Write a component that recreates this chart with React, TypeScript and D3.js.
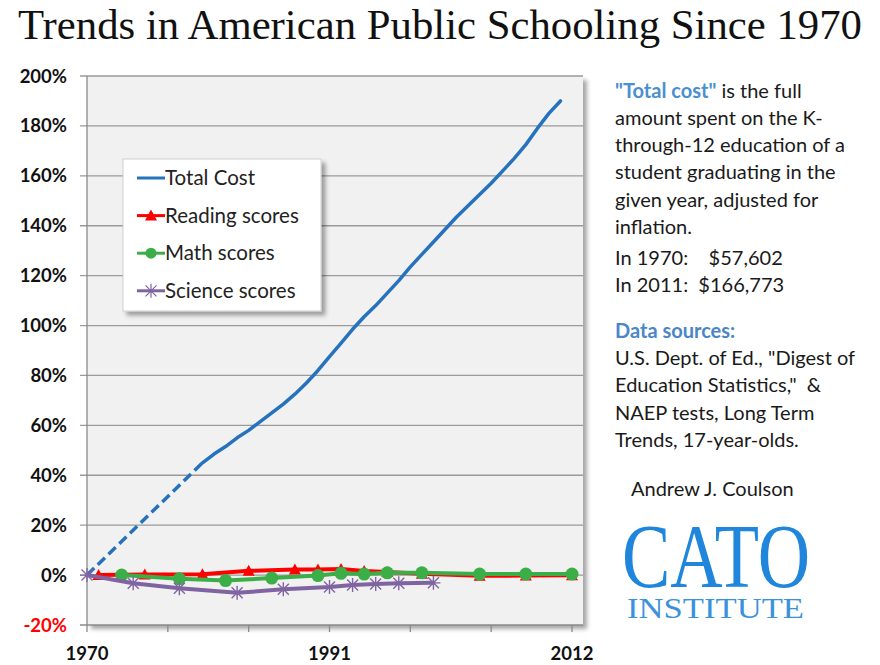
import * as d3 from 'd3';
import React, { useEffect, useRef } from 'react';

// Total cost, % change since 1970 (gap 1970-1980 drawn dashed)
const costYears = [
  1970, 1980, 1981, 1982, 1983, 1984, 1985, 1986, 1987, 1988, 1989, 1990, 1991,
  1992, 1993, 1994, 1995, 1996, 1997, 1998, 1999, 2000, 2001, 2002, 2003, 2004,
  2005, 2006, 2007, 2008, 2009, 2010, 2011,
];
const costValues = [
  0, 45, 48.5, 51.5, 55, 58, 61.5, 65, 68.5, 72.5, 77, 82, 87.5, 93, 98.5,
  103.5, 108, 113, 118, 123.5, 128.5, 133.5, 138.5, 143.5, 148, 152.5, 157, 162,
  167, 172.5, 179, 185, 190,
];

const readingYears = [1971, 1975, 1980, 1984, 1988, 1990, 1992, 1994, 1996, 1999, 2004, 2008, 2012];
const readingValues = [0, 0.2, 0.3, 1.7, 2.2, 2.2, 2.4, 1.6, 1.2, 0.5, -0.3, -0.2, -0.1];

const mathYears = [1973, 1978, 1982, 1986, 1990, 1992, 1994, 1996, 1999, 2004, 2008, 2012];
const mathValues = [0, -1.5, -2.2, -1.2, -0.2, 0.7, 0.4, 0.9, 0.9, 0.4, 0.4, 0.4];

const scienceYears = [1970, 1974, 1978, 1983, 1987, 1991, 1993, 1995, 1997, 2000];
const scienceValues = [0, -3.3, -5.3, -7.1, -5.7, -4.8, -4.0, -3.6, -3.3, -3.1];

const yTicks = [-20, 0, 20, 40, 60, 80, 100, 120, 140, 160, 180, 200];
const xTicks = [1970, 1977, 1984, 1991, 1998, 2005, 2012];
const xLabels = [1970, 1991, 2012];

const legendItems = ['Total Cost', 'Reading scores', 'Math scores', 'Science scores'];

const noteLines = [
  'amount spent on the K-',
  'through-12 education of a',
  'student graduating in the',
  'given year, adjusted for',
  'inflation.',
  'In 1970:\u00a0\u00a0\u00a0\u00a0$57,602',
  'In 2011:\u00a0\u00a0$166,773',
];
const sourceLines = [
  'U.S. Dept. of Ed., "Digest of',
  'Education Statistics,"\u00a0\u00a0&',
  'NAEP tests, Long Term',
  'Trends, 17-year-olds.',
];

const BLUE = '#2672bd';
const RED = '#ff0000';
const GREEN = '#3cae48';
const PURPLE = '#8064a2';
const SANS = 'Lato, "Open Sans", sans-serif';

const App: React.FC = () => {
  const ref = useRef<HTMLDivElement>(null);

  useEffect(() => {
    const width = 880;
    const height = 665;
    const left = 87;
    const right = 583;
    const top = 76;
    const bottom = 625;

    const x = d3.scaleLinear().domain([1970, 2012]).range([left, 572]);
    const y = d3.scaleLinear().domain([-20, 200]).range([bottom, top]);

    const svg = d3
      .create('svg')
      .attr('width', width)
      .attr('height', height)
      .attr('viewBox', [0, 0, width, height])
      .style('display', 'block');

    const defs = svg.append('defs');
    defs
      .append('filter')
      .attr('id', 'shadow')
      .attr('x', '-5%')
      .attr('y', '-5%')
      .attr('width', '115%')
      .attr('height', '115%')
      .append('feDropShadow')
      .attr('dx', 4)
      .attr('dy', 4)
      .attr('stdDeviation', 2)
      .attr('flood-color', '#000')
      .attr('flood-opacity', 0.35);

    svg.append('rect').attr('width', width).attr('height', height).attr('fill', '#fff');

    // Title
    svg
      .append('text')
      .attr('x', 18)
      .attr('y', 39)
      .attr('font-family', '"Liberation Serif", "DejaVu Serif", serif')
      .attr('font-size', 42)
      .attr('fill', '#111')
      .attr('textLength', 844)
      .attr('lengthAdjust', 'spacingAndGlyphs')
      .text('Trends in American Public Schooling Since 1970');

    // Plot area
    svg
      .append('rect')
      .attr('x', left)
      .attr('y', top)
      .attr('width', right - left)
      .attr('height', bottom - top)
      .attr('fill', '#f1f1f1')
      .attr('filter', 'url(#shadow)');

    // Gridlines + y ticks
    svg
      .append('g')
      .selectAll('line')
      .data(yTicks.filter(d => d > -20))
      .join('line')
      .attr('x1', left - 7)
      .attr('x2', right)
      .attr('y1', d => y(d))
      .attr('y2', d => y(d))
      .attr('stroke', '#9a9a9a')
      .attr('stroke-width', 1.3);

    svg
      .append('g')
      .selectAll('text')
      .data(yTicks)
      .join('text')
      .attr('x', 67)
      .attr('y', d => y(d) + 6.5)
      .attr('text-anchor', 'end')
      .attr('font-family', SANS)
      .attr('font-weight', 'bold')
      .attr('font-size', 18.5)
      .attr('fill', d => (d < 0 ? '#ff0000' : '#111'))
      .text(d => `${d}%`);

    // Axes lines
    svg.append('line').attr('x1', left).attr('x2', left).attr('y1', top).attr('y2', bottom)
      .attr('stroke', '#8a8a8a').attr('stroke-width', 1.3);
    svg.append('line').attr('x1', left - 7).attr('x2', right).attr('y1', bottom).attr('y2', bottom)
      .attr('stroke', '#8a8a8a').attr('stroke-width', 1.3);

    svg
      .append('g')
      .selectAll('line')
      .data(xTicks)
      .join('line')
      .attr('x1', d => x(d))
      .attr('x2', d => x(d))
      .attr('y1', bottom)
      .attr('y2', bottom + 7)
      .attr('stroke', '#8a8a8a')
      .attr('stroke-width', 1.3);

    svg
      .append('g')
      .selectAll('text')
      .data(xLabels)
      .join('text')
      .attr('x', d => x(d))
      .attr('y', 660)
      .attr('text-anchor', 'middle')
      .attr('font-family', SANS)
      .attr('font-weight', 'bold')
      .attr('font-size', 18.5)
      .attr('fill', '#111')
      .text(d => d);

    const line = d3
      .line<[number, number]>()
      .x(d => x(d[0]))
      .y(d => y(d[1]));

    // Total cost: dashed across the data gap, solid afterwards
    const costPts: [number, number][] = costYears.map((yr, i) => [yr, costValues[i]]);
    svg.append('path').attr('d', line(costPts.slice(0, 2)))
      .attr('fill', 'none').attr('stroke', BLUE).attr('stroke-width', 3.5)
      .attr('stroke-dasharray', '10,5');
    svg.append('path').attr('d', line(costPts.slice(1)))
      .attr('fill', 'none').attr('stroke', BLUE).attr('stroke-width', 3.5)
      .attr('stroke-linejoin', 'round').attr('stroke-linecap', 'round');

    const triangle = 'M0,-6L6,5L-6,5Z';
    const star = 'M0,-7V7M-5.5,-5.5L5.5,5.5M-5.5,5.5L5.5,-5.5M-7,0H7';

    const drawSeries = (
      years: number[],
      values: number[],
      color: string,
      marker: 'triangle' | 'circle' | 'star'
    ) => {
      const pts: [number, number][] = years.map((yr, i) => [yr, values[i]]);
      svg.append('path').attr('d', line(pts))
        .attr('fill', 'none').attr('stroke', color).attr('stroke-width', 4)
        .attr('stroke-linejoin', 'round');
      const g = svg.append('g');
      const m = g.selectAll('g').data(pts).join('g')
        .attr('transform', d => `translate(${x(d[0])},${y(d[1])})`);
      if (marker === 'circle') {
        m.append('circle').attr('r', 6.5).attr('fill', color);
      } else if (marker === 'triangle') {
        m.append('path').attr('d', triangle).attr('fill', color);
      } else {
        m.append('path').attr('d', star).attr('stroke', color).attr('stroke-width', 1.4).attr('fill', 'none');
      }
    };

    drawSeries(readingYears, readingValues, RED, 'triangle');
    drawSeries(mathYears, mathValues, GREEN, 'circle');
    drawSeries(scienceYears, scienceValues, PURPLE, 'star');

    // Legend
    const lg = svg.append('g').attr('transform', 'translate(123,159)');
    lg.append('rect').attr('width', 198).attr('height', 152)
      .attr('fill', '#fff').attr('stroke', '#d0d0d0').attr('filter', 'url(#shadow)');
    const colors = [BLUE, RED, GREEN, PURPLE];
    const row = lg.selectAll('g.row').data(legendItems).join('g')
      .attr('class', 'row')
      .attr('transform', (_, i) => `translate(0,${19 + i * 37.6})`);
    row.append('line').attr('x1', 14).attr('x2', 42).attr('y1', 0).attr('y2', 0)
      .attr('stroke', (_, i) => colors[i]).attr('stroke-width', 3);
    row.each(function (_, i) {
      const r = d3.select(this);
      if (i === 1) r.append('path').attr('d', triangle).attr('transform', 'translate(28,0)').attr('fill', RED);
      if (i === 2) r.append('circle').attr('cx', 28).attr('r', 5.5).attr('fill', GREEN);
      if (i === 3) r.append('path').attr('d', star).attr('transform', 'translate(28,0)')
        .attr('stroke', PURPLE).attr('stroke-width', 1.2).attr('fill', 'none');
    });
    row.append('text').attr('x', 42).attr('y', 7)
      .attr('font-family', SANS).attr('font-size', 20.5).attr('fill', '#222')
      .text(d => d);

    // Right-hand notes
    const notes = svg.append('g').attr('font-family', SANS).attr('font-size', 20).attr('fill', '#1a1a1a');
    const first = notes.append('text').attr('x', 615).attr('y', 98);
    first.append('tspan').attr('fill', '#4a8fd0').attr('font-weight', 'bold').text('"Total cost"');
    first.append('tspan').text(' is the full');
    notes.selectAll('text.note').data(noteLines).join('text')
      .attr('class', 'note')
      .attr('x', 615)
      .attr('y', (_, i) => 125 + i * 27.2 + (i >= 5 ? 4 : 0))
      .text(d => d);

    notes.append('text').attr('x', 615).attr('y', 338)
      .attr('fill', '#4a86c8').attr('font-weight', 'bold').text('Data sources:');
    notes.selectAll('text.src').data(sourceLines).join('text')
      .attr('class', 'src')
      .attr('x', 615)
      .attr('y', (_, i) => 365 + i * 27.3)
      .text(d => d);
    notes.append('text').attr('x', 631).attr('y', 496).text('Andrew J. Coulson');

    // CATO logo
    svg.append('text').attr('x', 622).attr('y', 587)
      .attr('font-family', '"Liberation Serif", serif').attr('font-size', 90)
      .attr('fill', '#1f86dc').attr('textLength', 188).attr('lengthAdjust', 'spacingAndGlyphs')
      .text('CATO');
    svg.append('text').attr('x', 627).attr('y', 618)
      .attr('font-family', '"Liberation Serif", serif').attr('font-size', 29)
      .attr('fill', '#3b92dc').attr('textLength', 177).attr('lengthAdjust', 'spacingAndGlyphs')
      .text('INSTITUTE');

    d3.select(ref.current).html('');
    d3.select(ref.current).append(() => svg.node());
  }, []);

  return <div ref={ref} style={{ position: 'absolute', left: 0, top: 0 }}></div>;
};

export default App;
